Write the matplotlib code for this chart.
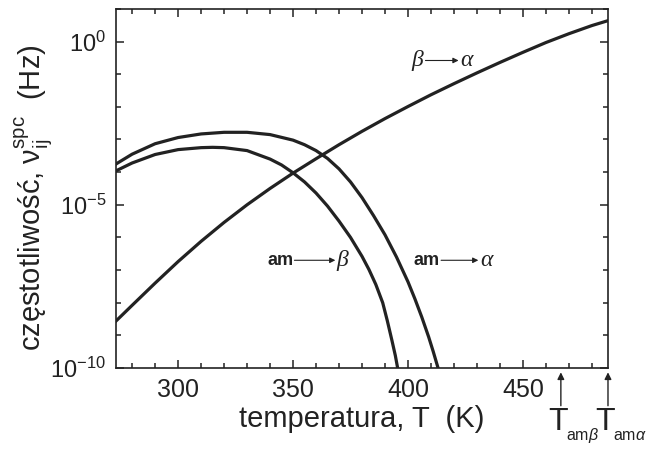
import matplotlib
matplotlib.use("Agg")
import numpy as np
import matplotlib.pyplot as plt
from matplotlib.ticker import FixedLocator, MultipleLocator, NullFormatter

plt.rcParams['font.family'] = ['Liberation Sans', 'DejaVu Sans']
plt.rcParams['mathtext.fontset'] = 'custom'
plt.rcParams['mathtext.rm'] = 'Liberation Sans'
plt.rcParams['mathtext.it'] = 'Liberation Sans:italic'
plt.rcParams['mathtext.bf'] = 'Liberation Sans:bold'

# values: temperature (K) and log10 of frequency (Hz)
temp_ba = [273.0, 280, 290, 300, 310, 320, 330, 340, 350, 360, 370, 380, 390,
           400, 410, 420, 430, 440, 450, 460, 470, 480, 487.0]
logf_ba = [-8.56, -8.08, -7.40, -6.74, -6.12, -5.54, -5.00, -4.50, -4.03,
           -3.59, -3.16, -2.75, -2.36, -1.99, -1.63, -1.29, -0.96, -0.64,
           -0.33, -0.03, 0.24, 0.49, 0.64]

temp_aa = [273.0, 280, 290, 300, 310, 320, 330, 340, 350, 355, 360, 365, 370,
           375, 380, 385, 390, 395, 400, 403, 406, 409, 411, 413, 413.6]
logf_aa = [-3.75, -3.45, -3.13, -2.94, -2.83, -2.78, -2.78, -2.85, -3.02,
           -3.16, -3.34, -3.58, -3.90, -4.30, -4.78, -5.33, -5.92, -6.60,
           -7.36, -7.88, -8.44, -9.05, -9.50, -9.98, -10.15]

temp_ab = [273.0, 280, 290, 300, 310, 315, 320, 330, 340, 345, 350, 355, 360,
           365, 370, 375, 380, 383, 386, 389, 391, 393, 394.5, 395.5, 396.0]
logf_ab = [-3.96, -3.72, -3.46, -3.31, -3.25, -3.24, -3.25, -3.34, -3.60,
           -3.78, -4.02, -4.30, -4.64, -5.04, -5.50, -6.00, -6.58, -6.98,
           -7.44, -8.00, -8.55, -9.15, -9.62, -10.0, -10.15]

x_ticks = [300, 350, 400, 450]
y_ticks = [1e-10, 1e-5, 1e0]
y_tick_labels = [r'$10^{-10}$', r'$10^{-5}$', r'$10^{0}$']

fig = plt.figure(figsize=(6.57, 4.5), dpi=100)
ax = fig.add_axes([0.1766, 0.1822, 0.7488, 0.798])

ink = '#222222'
lw = 2.3
for t, lf in [(temp_ba, logf_ba), (temp_aa, logf_aa), (temp_ab, logf_ab)]:
    ax.plot(t, 10.0 ** np.array(lf), color=ink, lw=lw,
            solid_joinstyle='round')

ax.set_yscale('log')
ax.set_xlim(273, 487)
ax.set_ylim(1e-10, 10)

ax.set_xticks(x_ticks)
ax.xaxis.set_minor_locator(MultipleLocator(10))
ax.set_yticks(y_ticks)
ax.set_yticklabels(y_tick_labels)
ax.yaxis.set_minor_locator(FixedLocator([10.0 ** k for k in range(-10, 2)]))
ax.yaxis.set_minor_formatter(NullFormatter())

ax.tick_params(which='both', direction='in', top=True, right=True,
               width=1.1, colors=ink)
ax.tick_params(which='major', length=6)
ax.tick_params(which='minor', length=3.5)
ax.tick_params(axis='x', which='major', labelsize=18, pad=7)
ax.tick_params(axis='y', which='major', labelsize=17, pad=7)
for s in ax.spines.values():
    s.set_linewidth(1.2)
    s.set_color(ink)

ax.set_xlabel('temperatura, T  (K)', fontsize=21, color=ink)
ax.xaxis.set_label_coords(0.5, -0.103)
ax.set_ylabel(r'częstotliwość, $\mathregular{\nu_{ij}^{spc}}$  (Hz)',
              fontsize=21, color=ink)
ax.yaxis.set_label_coords(-0.124, 0.474)

# curve labels
greek = dict(family='Liberation Serif', style='italic', fontsize=17,
             color=ink, ha='center', va='center')
bold = dict(fontsize=13, fontweight='bold', color=ink,
            ha='center', va='center')
arr = dict(arrowstyle='-|>', lw=0.8, color=ink, mutation_scale=8,
           shrinkA=0, shrinkB=0)

ax.text(404.0, 10 ** -0.58, 'β', **greek)
ax.annotate('', xy=(422.0, 10 ** -0.58), xytext=(407.6, 10 ** -0.58),
            arrowprops=arr)
ax.text(425.4, 10 ** -0.58, 'α', **greek)

ax.text(344.6, 10 ** -6.70, 'am', **bold)
ax.annotate('', xy=(368.4, 10 ** -6.70), xytext=(350.6, 10 ** -6.70),
            arrowprops=arr)
ax.text(371.6, 10 ** -6.70, 'β', **greek)

ax.text(408.2, 10 ** -6.70, 'am', **bold)
ax.annotate('', xy=(430.6, 10 ** -6.70), xytext=(414.4, 10 ** -6.70),
            arrowprops=arr)
ax.text(434.0, 10 ** -6.70, 'α', **greek)

# transition temperature markers below the axis
tr = ax.get_xaxis_transform()
arr2 = dict(arrowstyle='-|>', lw=1.0, color=ink, mutation_scale=10,
            shrinkA=0, shrinkB=0)
for xt, sub in [(466.5, r'am$\beta$'), (487.0, r'am$\alpha$')]:
    ax.annotate('', xy=(xt, -0.012), xycoords=tr, xytext=(xt, -0.105),
                textcoords=tr, arrowprops=arr2, annotation_clip=False)
    ax.text(xt - 1.2, -0.108, 'T', transform=tr, fontsize=23, ha='center',
            va='top', color=ink, clip_on=False)
    ax.text(xt + 2.2, -0.187, sub, transform=tr, fontsize=11.5, ha='left',
            va='center', color=ink, clip_on=False)

fig.savefig('out.png', dpi=100, facecolor='white')
